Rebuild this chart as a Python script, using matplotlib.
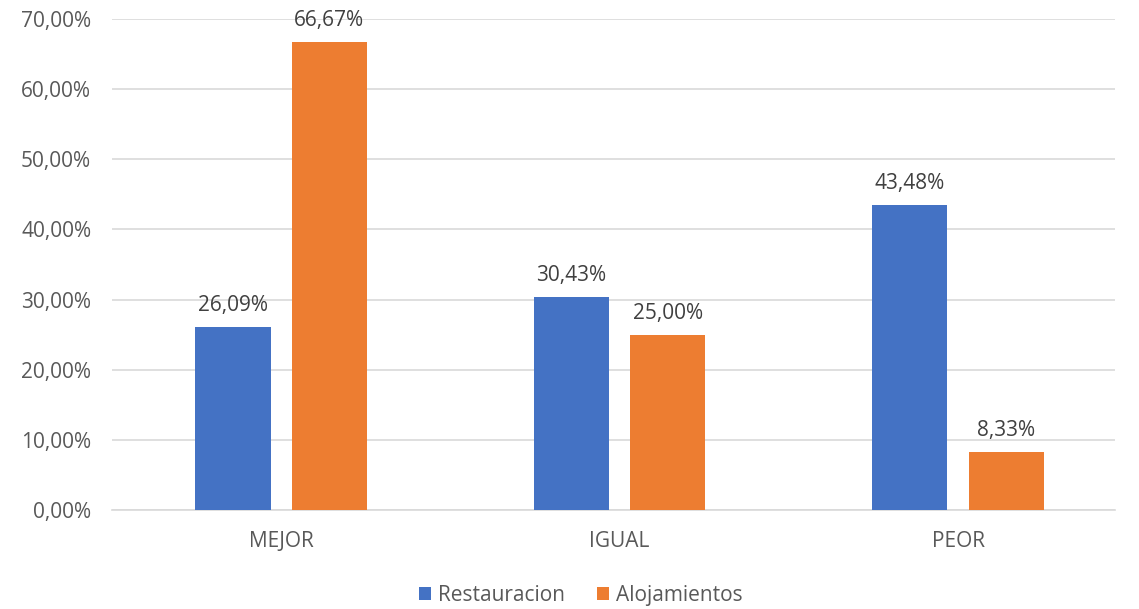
import matplotlib
matplotlib.use('Agg')
import matplotlib.pyplot as plt
import numpy as np

# Chart data
categories = ['MEJOR', 'IGUAL', 'PEOR']
restauracion = [26.09, 30.43, 43.48]
alojamientos = [66.67, 25.00, 8.33]
series_names = ['Restauracion', 'Alojamientos']
y_ticks = [0, 10, 20, 30, 40, 50, 60, 70]

plt.rcParams['font.family'] = ['Open Sans', 'DejaVu Sans']

fig = plt.figure(figsize=(11.39, 6.09), dpi=100)
ax = fig.add_axes([0.0983, 0.1626, 0.8807, 0.8062])

x = np.arange(len(categories))
width = 0.222
offset = 0.1425

b1 = ax.bar(x - offset, restauracion, width, color='#4472C4', label=series_names[0], zorder=3)
b2 = ax.bar(x + offset, alojamientos, width, color='#ED7D31', label=series_names[1], zorder=3)

def fmt(v):
    return f'{v:.2f}%'.replace('.', ',')

# value labels above bars
for bars, vals in ((b1, restauracion), (b2, alojamientos)):
    for bar, v in zip(bars, vals):
        ax.annotate(fmt(v), (bar.get_x() + bar.get_width() / 2, v),
                    xytext=(0, 11.5), textcoords='offset points',
                    ha='center', va='baseline', fontsize=15, color='#404040')

ax.set_xlim(-0.5, 2.464)
ax.set_ylim(0, 70)
ax.set_yticks(y_ticks)
ax.set_yticklabels([fmt(t) for t in y_ticks], fontsize=15, color='#595959')
ax.set_xticks(x)
ax.set_xticklabels(categories, fontsize=15, color='#595959')
ax.tick_params(axis='both', length=0)
ax.tick_params(axis='x', pad=15)
ax.tick_params(axis='y', pad=15)

ax.grid(axis='y', color='#d9d9d9', linewidth=1.2, zorder=0)
for s in ('top', 'right', 'left'):
    ax.spines[s].set_visible(False)
ax.spines['bottom'].set_color('#d9d9d9')
ax.spines['bottom'].set_linewidth(1.2)

leg = fig.legend(handles=[b1, b2], labels=series_names, loc='center',
                 bbox_to_anchor=(0.51, 0.022), ncol=2, frameon=False, fontsize=15,
                 handlelength=0.6, handleheight=0.6, handletextpad=0.35, columnspacing=1.5,
                 borderpad=0, borderaxespad=0)
for t in leg.get_texts():
    t.set_color('#595959')

plt.savefig('out.png', dpi=100)
